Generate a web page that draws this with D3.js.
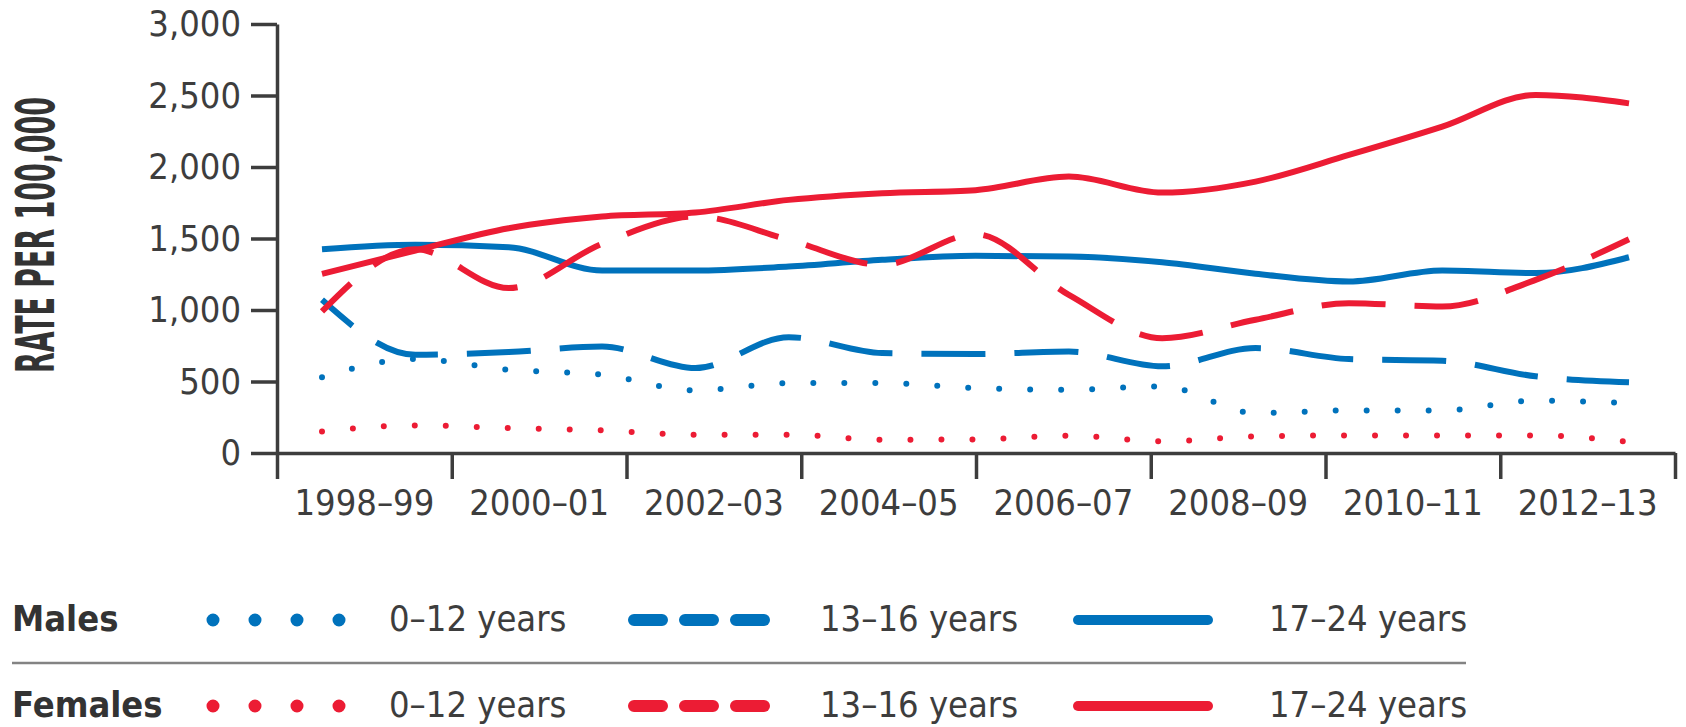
<!DOCTYPE html>
<html lang="en">
    <head>
        <meta charset="utf-8">
        <title>Rate per 100,000 by age group and sex</title>
        <script src="https://d3js.org/d3.v7.min.js"></script>
        <style type="text/css">
        body { margin: 0; background: #fff; }
        text { font-family: "Liberation Sans Narrow", "DejaVu Sans Condensed", "Arial Narrow", sans-serif; font-stretch: condensed; }
        </style>
    </head>
    <body>
        <script type="text/javascript">

//1. Data
const years = ["1998–99", "1999–00", "2000–01", "2001–02", "2002–03", "2003–04", "2004–05", "2005–06",
               "2006–07", "2007–08", "2008–09", "2009–10", "2010–11", "2011–12", "2012–13"];
const axisLabels = ["1998–99", "2000–01", "2002–03", "2004–05", "2006–07", "2008–09", "2010–11", "2012–13"];
const yTicks = [0, 500, 1000, 1500, 2000, 2500, 3000];

const males0to12   = [529, 657, 582, 547, 438, 489, 489, 454, 443, 466, 279, 298, 298, 366, 349];
const males13to16  = [1071, 687, 706, 745, 594, 810, 699, 692, 710, 606, 734, 657, 645, 536, 494];
const males17to24  = [1425, 1456, 1439, 1276, 1276, 1304, 1351, 1379, 1374, 1334, 1253, 1199, 1276, 1258, 1369];
const females0to12  = [151, 193, 175, 158, 128, 128, 93, 95, 121, 82, 116, 123, 123, 123, 77];
const females13to16 = [990, 1425, 1153, 1463, 1654, 1491, 1316, 1530, 1106, 803, 932, 1048, 1025, 1211, 1495];
const females17to24 = [1253, 1416, 1572, 1654, 1682, 1770, 1817, 1838, 1933, 1821, 1898, 2084, 2282, 2504, 2445];

const ageGroups = ["0–12 years", "13–16 years", "17–24 years"];

//2. Consts
const svgWidth = 1686;
const svgHeight = 727;
const blue = "#0072bc";
const red = "#ec1c34";
const ink = "#3d3d3d";

const series = [
    {values: males0to12,    color: blue, style: "dot"},
    {values: males13to16,   color: blue, style: "dash"},
    {values: males17to24,   color: blue, style: "solid"},
    {values: females0to12,  color: red,  style: "dot"},
    {values: females13to16, color: red,  style: "dash"},
    {values: females17to24, color: red,  style: "solid"}
];

//3. Scales
const xScale = d3.scalePoint()
                .domain(years)
                .range([322, 1629]);

const axisBand = d3.scaleBand()
                .domain(axisLabels)
                .range([277, 1675]);

const yScale = d3.scaleLinear()
                .domain([0, 3000])
                .range([453, 24]);

//4. SVG
const svg = d3.select("body")
                .append("svg")
                .attr("width", svgWidth)
                .attr("height", svgHeight);

//5. Axes
// tick marks on the band edges, labels in the band middles
const xTicks = svg.append("g")
    .attr("transform", "translate(0,453)")
    .call(d3.axisBottom(axisBand)
            .tickValues(axisLabels)
            .tickSize(0)
            .tickPadding(36));

xTicks.selectAll(".tick text")
    .attr("font-size", "36px")
    .attr("fill", ink)
    .attr("font-family", null);

xTicks.select(".domain").remove();

const edges = axisLabels.map(d => axisBand(d)).concat([axisBand.range()[1]]);
const edgeAxis = svg.append("g")
    .attr("transform", "translate(0,453)")
    .call(d3.axisBottom(d3.scaleIdentity().domain([277, 1675]))
            .tickValues(edges)
            .tickFormat("")
            .tickSize(26)
            .tickSizeOuter(0));

edgeAxis.selectAll("line, path")
    .attr("stroke", ink)
    .attr("stroke-width", 3.5);

const yAxis = svg.append("g")
    .attr("transform", "translate(277,0)")
    .call(d3.axisLeft(yScale)
            .tickValues(yTicks)
            .tickFormat(d3.format(","))
            .tickSize(26)
            .tickSizeOuter(0)
            .tickPadding(10));

yAxis.selectAll("line, path")
    .attr("stroke", ink)
    .attr("stroke-width", 3.5);

yAxis.selectAll(".tick text")
    .attr("font-size", "36px")
    .attr("fill", ink)
    .attr("font-family", null);

// y title: tall, very condensed bold letters
svg.append("text")
    .attr("transform", "translate(54,235) rotate(-90) scale(1,1.8)")
    .attr("text-anchor", "middle")
    .attr("font-size", "30px")
    .attr("font-weight", "bold")
    .attr("fill", "#333")
    .attr("textLength", 276)
    .attr("lengthAdjust", "spacingAndGlyphs")
    .text("RATE PER 100,000");

//6. Lines
const line = d3.line()
    .x((d, i) => xScale(years[i]))
    .y(d => yScale(d))
    .curve(d3.curveMonotoneX);

const dashes = {dot: "0 31", dash: "64 29", solid: null};

svg.selectAll(".series")
    .data(series)
    .enter()
    .append("path")
    .attr("class", "series")
    .attr("d", d => line(d.values))
    .attr("fill", "none")
    .attr("stroke", d => d.color)
    .attr("stroke-width", 6)
    .attr("stroke-linecap", d => d.style == "dot" ? "round" : "butt")
    .attr("stroke-linejoin", "round")
    .attr("stroke-dasharray", d => dashes[d.style])
    .attr("stroke-dashoffset", d => d.style == "dash" ? 24 : 0);

//7. Legend
const legendRows = [
    {name: "Males", color: blue, y: 620},
    {name: "Females", color: red, y: 706}
];

svg.append("line")
    .attr("x1", 12).attr("x2", 1466)
    .attr("y1", 663).attr("y2", 663)
    .attr("stroke", "#838383")
    .attr("stroke-width", 2.5);

legendRows.forEach(row => {
    const g = svg.append("g");

    g.append("text")
        .attr("x", 12)
        .attr("y", row.y + 11)
        .attr("font-size", "36px")
        .attr("font-weight", "bold")
        .attr("fill", "#333")
        .text(row.name);

    // dotted sample
    g.append("line")
        .attr("x1", 213).attr("x2", 341)
        .attr("y1", row.y).attr("y2", row.y)
        .attr("stroke", row.color)
        .attr("stroke-width", 13)
        .attr("stroke-linecap", "round")
        .attr("stroke-dasharray", "0 42");

    // dashed sample
    g.append("line")
        .attr("x1", 634).attr("x2", 764)
        .attr("y1", row.y).attr("y2", row.y)
        .attr("stroke", row.color)
        .attr("stroke-width", 12)
        .attr("stroke-linecap", "round")
        .attr("stroke-dasharray", "28 23");

    // solid sample
    g.append("line")
        .attr("x1", 1078).attr("x2", 1208)
        .attr("y1", row.y).attr("y2", row.y)
        .attr("stroke", row.color)
        .attr("stroke-width", 10)
        .attr("stroke-linecap", "round");

    g.selectAll(".age")
        .data(ageGroups)
        .enter()
        .append("text")
        .attr("x", (d, i) => [389, 820, 1269][i])
        .attr("y", row.y + 11)
        .attr("font-size", "36px")
        .attr("fill", ink)
        .text(d => d);
});

</script>
</body>
</html>
